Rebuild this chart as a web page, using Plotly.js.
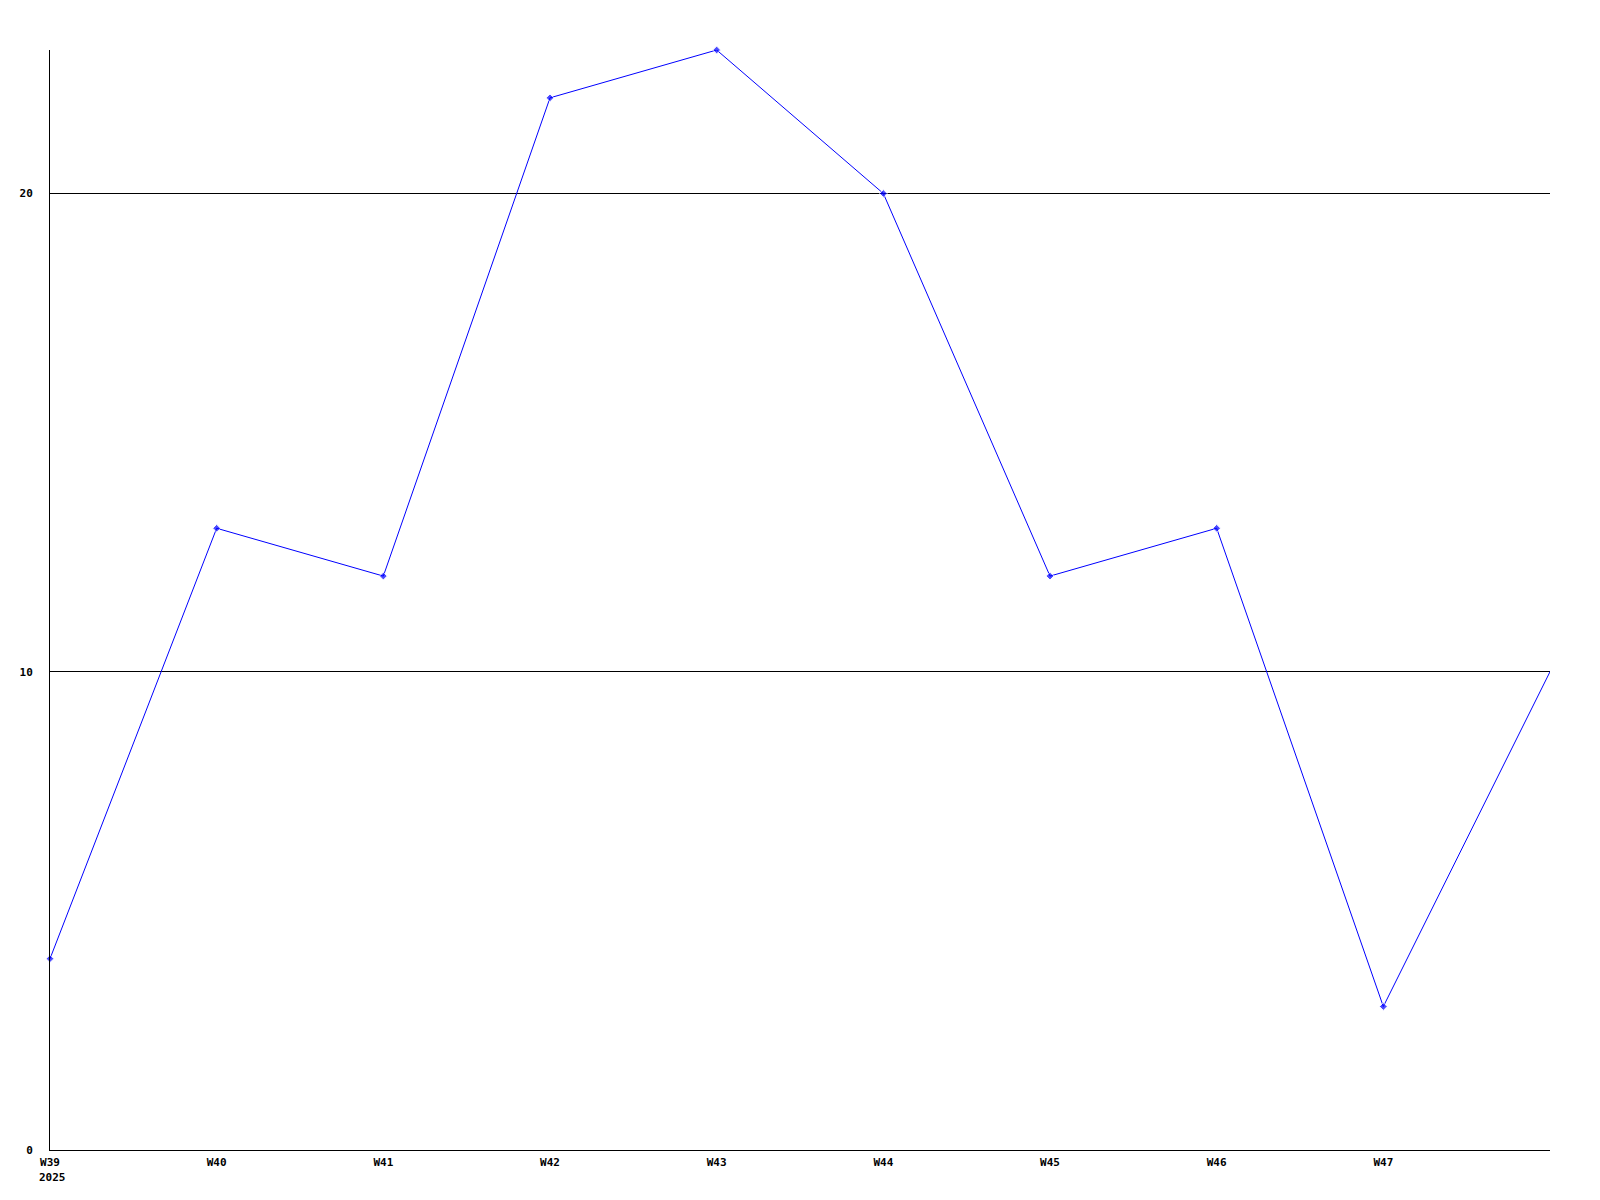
<!DOCTYPE html>
<html>
<head>
<meta charset="utf-8">
<script src="https://cdn.plot.ly/plotly-3.0.1.min.js"></script>
<style>html,body{margin:0;padding:0;background:#fff;}#chart{width:1600px;height:1200px;}</style>
</head>
<body>
<div id="chart"></div>
<script>
const weeks = ["W39", "W40", "W41", "W42", "W43", "W44", "W45", "W46", "W47", "W48"];
const values = [4, 13, 12, 22, 23, 20, 12, 13, 3, 10];
const shownTicks = ["W39", "W40", "W41", "W42", "W43", "W44", "W45", "W46", "W47"];
const yearLabel = "2025";
const yTicks = [0, 10, 20];

const xIdx = weeks.map((w, i) => i);
const markerSizes = weeks.map((w, i) => i === weeks.length - 1 ? 0 : 6);
const font = {family: "DejaVu Sans Mono, monospace", size: 11, color: "#000", weight: "bold"};

Plotly.newPlot("chart", [{
  type: "scatter",
  mode: "lines+markers",
  x: xIdx,
  y: values,
  line: {color: "#0000ff", width: 1},
  marker: {color: "#0000ff", size: markerSizes, symbol: "diamond"},
  cliponaxis: false,
  hoverinfo: "skip"
}], {
  width: 1600,
  height: 1200,
  margin: {l: 50, r: 50, t: 50, b: 50},
  paper_bgcolor: "#fff",
  plot_bgcolor: "#fff",
  showlegend: false,
  font: font,
  xaxis: {
    range: [0, weeks.length - 1],
    tickmode: "array",
    tickvals: shownTicks.map((w, i) => i),
    ticktext: shownTicks,
    showgrid: false,
    zeroline: false,
    showline: true,
    linecolor: "#000",
    linewidth: 1,
    ticks: "",
    ticklabelstandoff: 2,
    tickfont: font,
    fixedrange: true
  },
  yaxis: {
    range: [0, 23],
    tickmode: "array",
    tickvals: yTicks,
    ticktext: yTicks.map(String),
    showgrid: true,
    gridcolor: "#000",
    gridwidth: 1,
    zeroline: false,
    showline: true,
    linecolor: "#000",
    linewidth: 1,
    ticks: "",
    ticklabelstandoff: 14,
    tickfont: font,
    fixedrange: true
  },
  annotations: [{
    text: yearLabel,
    xref: "paper", yref: "paper",
    x: -13/1500, y: -27/1100,
    xanchor: "left", yanchor: "middle",
    showarrow: false,
    font: font
  }]
}, {staticPlot: true});
</script>
</body>
</html>
